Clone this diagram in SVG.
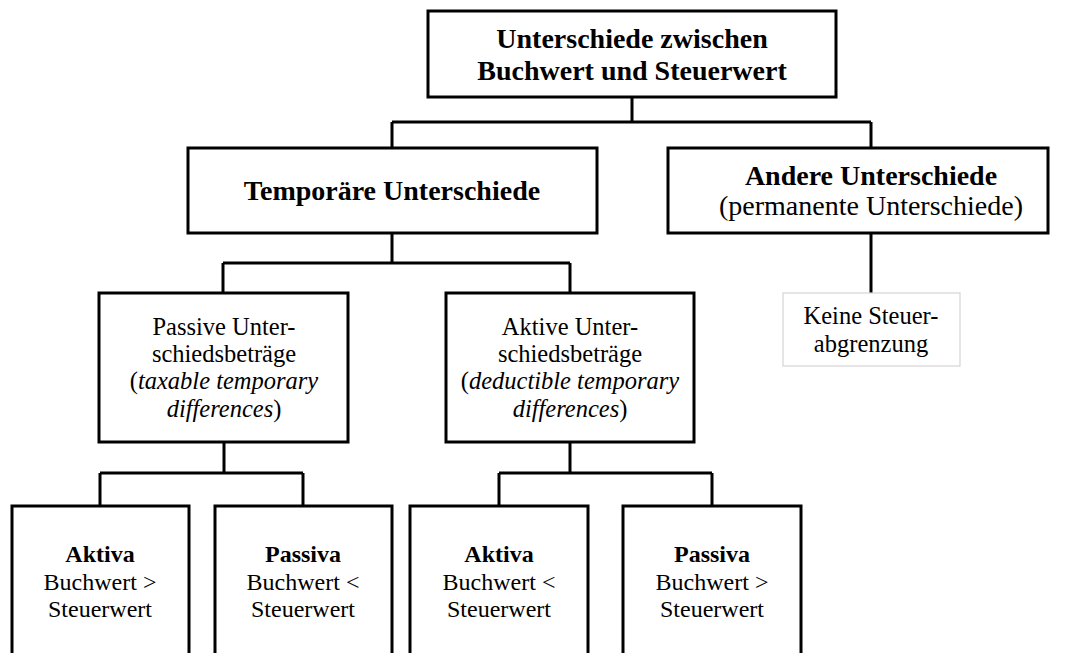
<svg xmlns="http://www.w3.org/2000/svg" width="1066" height="653" viewBox="0 0 1066 653">
  <style>
    .box { fill: #ffffff; stroke: #000000; stroke-width: 3; }
    .soft { fill: #ffffff; stroke: #d4d4d4; stroke-width: 1.2; }
    .link { fill: none; stroke: #000000; stroke-width: 3; stroke-linejoin: miter; }
    text { font-family: "Liberation Serif", "Times New Roman", serif; fill: #000000; text-anchor: middle; }
    .head { font-size: 28px; font-weight: bold; }
    .lead { font-size: 28px; }
    .body { font-size: 24.5px; }
    .small { font-size: 24px; }
    .sub { font-size: 24px; font-weight: bold; }
    .it { font-style: italic; }
  </style>
  <rect width="1066" height="653" fill="#ffffff"/>

  <!-- connectors -->
  <g id="connectors">
    <path class="link" d="M632,97 V122 M392,122 H871 M392,122 V148 M871,122 V148"/>
    <path class="link" d="M871,233 V293"/>
    <path class="link" d="M392,233 V263 M223,263 H570 M223,263 V293 M570,263 V293"/>
    <path class="link" d="M224,442 V473 M100,473 H303 M100,473 V506 M303,473 V506"/>
    <path class="link" d="M570,442 V473 M499,473 H712 M499,473 V506 M712,473 V506"/>
  </g>

  <!-- root -->
  <g id="root">
    <rect class="box" x="428" y="11" width="408" height="86"/>
    <text class="head" x="632" y="48">Unterschiede zwischen</text>
    <text class="head" x="632" y="80">Buchwert und Steuerwert</text>
  </g>

  <g id="temporaer">
    <rect class="box" x="188" y="148" width="409" height="85"/>
    <text class="head" x="392" y="200">Temporäre Unterschiede</text>
  </g>

  <g id="andere">
    <rect class="box" x="668" y="148" width="380" height="85"/>
    <text class="head" x="871" y="185">Andere Unterschiede</text>
    <text class="lead" x="871" y="215">(permanente Unterschiede)</text>
  </g>

  <g id="keine">
    <rect class="soft" x="783" y="293" width="177" height="73"/>
    <text class="body" x="871" y="324">Keine Steuer-</text>
    <text class="body" x="871" y="352">abgrenzung</text>
  </g>

  <g id="passive">
    <rect class="box" x="99" y="293" width="249" height="149"/>
    <text class="body" x="224" y="335">Passive Unter-</text>
    <text class="body" x="224" y="362">schiedsbeträge</text>
    <text class="body" x="224" y="389">(<tspan class="it">taxable temporary</tspan></text>
    <text class="body" x="224" y="417"><tspan class="it">differences</tspan>)</text>
  </g>

  <g id="aktive">
    <rect class="box" x="446" y="293" width="248" height="149"/>
    <text class="body" x="570" y="335">Aktive Unter-</text>
    <text class="body" x="570" y="362">schiedsbeträge</text>
    <text class="body" x="570" y="389">(<tspan class="it">deductible temporary</tspan></text>
    <text class="body" x="570" y="417"><tspan class="it">differences</tspan>)</text>
  </g>

  <g id="aktiva-passiv">
    <rect class="box" x="12" y="506" width="177" height="160"/>
    <text class="sub" x="100" y="562">Aktiva</text>
    <text class="small" x="100" y="590">Buchwert  &gt;</text>
    <text class="small" x="100" y="617">Steuerwert</text>
  </g>

  <g id="passiva-passiv">
    <rect class="box" x="215" y="506" width="177" height="160"/>
    <text class="sub" x="303" y="562">Passiva</text>
    <text class="small" x="303" y="590">Buchwert &lt;</text>
    <text class="small" x="303" y="617">Steuerwert</text>
  </g>

  <g id="aktiva-aktiv">
    <rect class="box" x="410" y="506" width="178" height="160"/>
    <text class="sub" x="499" y="562">Aktiva</text>
    <text class="small" x="499" y="590">Buchwert &lt;</text>
    <text class="small" x="499" y="617">Steuerwert</text>
  </g>

  <g id="passiva-aktiv">
    <rect class="box" x="623" y="506" width="178" height="160"/>
    <text class="sub" x="712" y="562">Passiva</text>
    <text class="small" x="712" y="590">Buchwert &gt;</text>
    <text class="small" x="712" y="617">Steuerwert</text>
  </g>
</svg>
